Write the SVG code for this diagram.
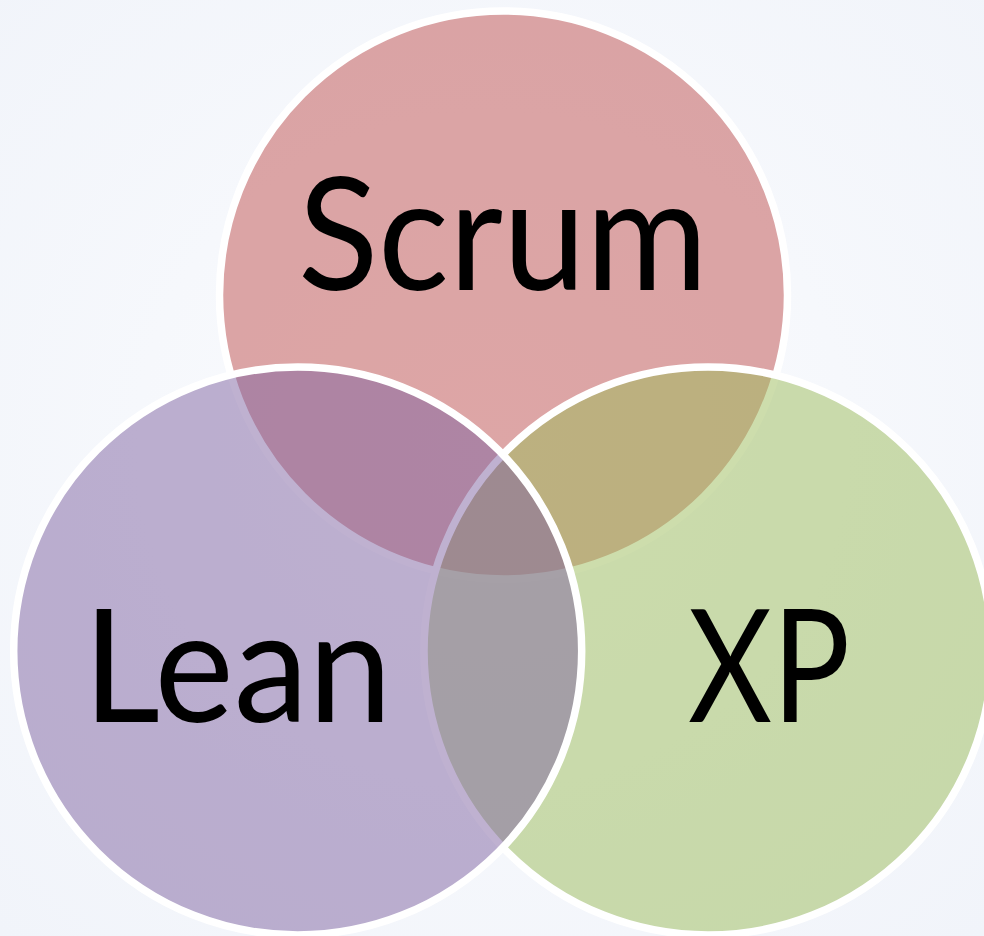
<svg xmlns="http://www.w3.org/2000/svg" width="984" height="936" viewBox="0 0 984 936">
  <defs>
    <radialGradient id="bg" cx="50%" cy="48%" r="72%">
      <stop offset="0" stop-color="#FBFCFE"/>
      <stop offset="1" stop-color="#F1F4FA"/>
    </radialGradient>
    <style>
      .c { stroke: #FFFFFF; stroke-width: 7.5; fill-opacity: 0.5; }
      .t { font-family: "Lato", "Open Sans", "Liberation Sans", sans-serif; font-size: 158px; fill: #000000; text-anchor: middle; }
    </style>
  </defs>
  <rect width="984" height="936" fill="url(#bg)"/>
  <g id="scrum">
    <circle class="c" cx="503.5" cy="295" r="284" fill="#C0504D"/>
  </g>
  <g id="xp">
    <circle class="c" cx="708" cy="651" r="284" fill="#9BBB59"/>
  </g>
  <g id="lean">
    <circle class="c" cx="297.7" cy="651" r="284" fill="#8064A2"/>
  </g>
  <g id="labels">
    <text class="t" x="503" y="290" textLength="410" lengthAdjust="spacingAndGlyphs">Scrum</text>
    <text class="t" x="237.5" y="722" textLength="309" lengthAdjust="spacingAndGlyphs">Lean</text>
    <text class="t" x="769" y="722" textLength="162" lengthAdjust="spacingAndGlyphs">XP</text>
  </g>
</svg>
